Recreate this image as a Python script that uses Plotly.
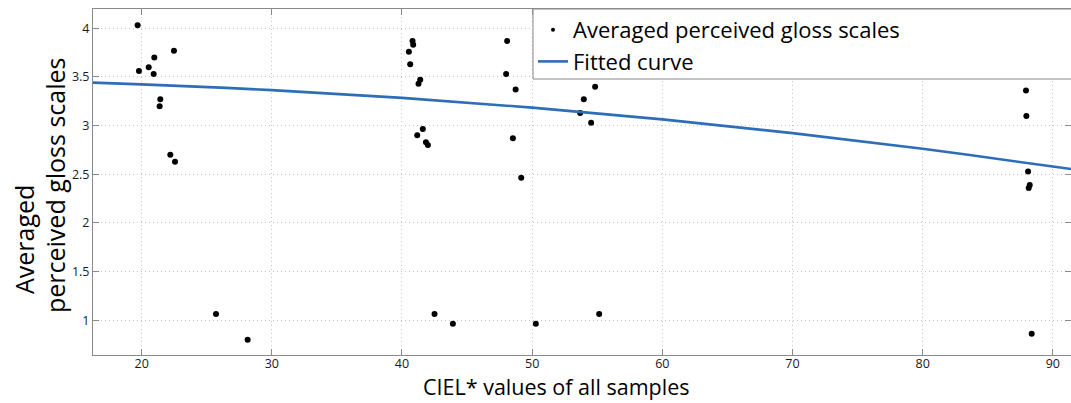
import plotly.graph_objects as go

# Scatter data: CIEL* values and averaged perceived gloss scales
ciel_values = [19.69, 22.48, 20.97, 19.79, 20.54, 20.92, 21.43, 21.38, 22.20, 22.56, 25.71, 28.14,
               40.81, 40.86, 40.53, 40.63, 41.40, 41.27, 41.60, 41.17, 41.84, 41.99,
               48.08, 48.00, 48.73, 48.52, 49.16,
               42.50, 43.91, 50.28, 55.15,
               54.84, 53.97, 53.69, 54.53,
               87.94, 87.97, 88.10, 88.23, 88.15, 88.38]
gloss_scales = [4.03, 3.77, 3.70, 3.56, 3.60, 3.53, 3.27, 3.20, 2.70, 2.63, 1.065, 0.80,
                3.87, 3.83, 3.76, 3.63, 3.47, 3.43, 2.965, 2.90, 2.83, 2.80,
                3.87, 3.53, 3.37, 2.87, 2.465,
                1.065, 0.965, 0.965, 1.065,
                3.40, 3.27, 3.13, 3.03,
                3.36, 3.10, 2.53, 2.39, 2.36, 0.862]

# Fitted curve
fit_x = [16.0, 20, 30, 40, 50, 60, 70, 80, 90, 92.0]
fit_y = [3.443, 3.424, 3.365, 3.285, 3.185, 3.064, 2.923, 2.762, 2.580, 2.543]

x_range = [16.26, 91.4]
y_range = [0.644, 4.198]
x_ticks = [20, 30, 40, 50, 60, 70, 80, 90]
y_ticks = [1, 1.5, 2, 2.5, 3, 3.5, 4]

x_title = "CIEL* values of all samples"
y_title_lines = ["Averaged", "perceived gloss scales"]
series_names = ["Averaged perceived gloss scales", "Fitted curve"]

FONT = "Open Sans"
W, H = 1071, 403
ML, MR, MT, MB = 93, 0, 9, 48
PW, PH = W - ML - MR, H - MT - MB
BLUE = "#2E6DB8"


def px_x(p):
    return (p - ML) / PW


def px_y(p):
    return 1 - (p - MT) / PH


fig = go.Figure()
fig.add_trace(go.Scatter(x=ciel_values, y=gloss_scales, mode="markers",
                         marker=dict(color="black", size=6), showlegend=False, name=series_names[0]))
fig.add_trace(go.Scatter(x=[None], y=[None], mode="markers",
                         marker=dict(color="black", size=4), name=series_names[0]))
fig.add_trace(go.Scatter(x=fit_x, y=fit_y, mode="lines", line=dict(color=BLUE, width=2.6, shape="spline"),
                         name=series_names[1]))

axis_common = dict(showline=True, linecolor="#8a8a8a", linewidth=1, mirror="ticks",
                   ticks="inside", ticklen=6, tickcolor="#8a8a8a",
                   showgrid=True, gridcolor="#c4c4c4", griddash="1px,3px", gridwidth=1,
                   zeroline=False, tickfont=dict(family=FONT, size=12.5, color="#1a1a1a"))

fig.update_xaxes(range=x_range, tickvals=x_ticks, ticklabelstandoff=-3, **axis_common)
fig.update_yaxes(range=y_range, tickvals=y_ticks, **axis_common)

fig.add_annotation(text=x_title, xref="paper", yref="paper", x=px_x(556), y=px_y(403),
                   xanchor="center", yanchor="bottom", showarrow=False, height=29,
                   font=dict(family=FONT, size=21.5, color="black"))
ytitle_font = dict(family=FONT, size=25, color="black")
fig.add_annotation(text=y_title_lines[0], xref="paper", yref="paper", x=px_x(24), y=px_y(240),
                   xanchor="center", yanchor="middle", showarrow=False, textangle=-90, font=ytitle_font)
fig.add_annotation(text=y_title_lines[1], xref="paper", yref="paper", x=px_x(55), y=px_y(186),
                   xanchor="center", yanchor="middle", showarrow=False, textangle=-90, font=ytitle_font)

leg_x0 = px_x(533)
leg_y0 = px_y(79)
fig.add_shape(type="rect", xref="paper", yref="paper", x0=leg_x0, x1=1.01, y0=leg_y0, y1=1,
              line=dict(color="#8a8a8a", width=1), fillcolor="white", layer="above")

fig.update_layout(width=W, height=H, margin=dict(l=ML, r=MR, t=MT, b=MB, autoexpand=False),
                  plot_bgcolor="white", paper_bgcolor="white",
                  font=dict(family=FONT),
                  legend=dict(x=leg_x0, y=1, xanchor="left", yanchor="top",
                              bgcolor="rgba(0,0,0,0)", borderwidth=0,
                              font=dict(family=FONT, size=22, color="black")))

fig.write_html("out.html")
